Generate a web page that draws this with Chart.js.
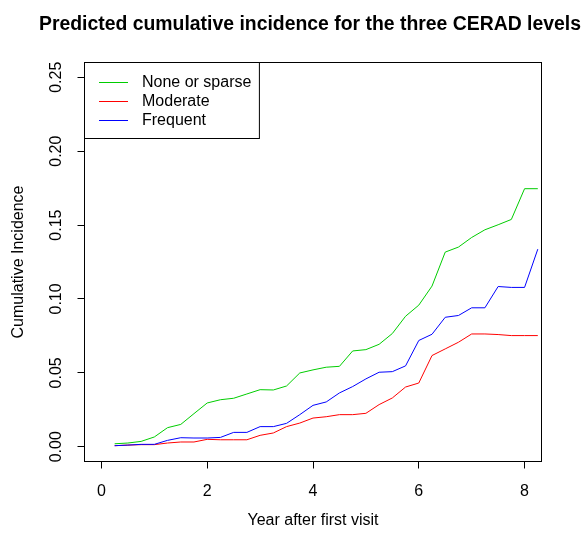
<!DOCTYPE html>
<html>
<head>
<meta charset="utf-8">
<script src="https://cdn.jsdelivr.net/npm/chart.js@4.4.1/dist/chart.umd.min.js"></script>
<style>
  html, body { margin: 0; padding: 0; background: #fff; }
</style>
</head>
<body>
<canvas id="incidence" width="584" height="536"></canvas>
<script>
// years after first visit, quarterly steps
const years = [0.25, 0.5, 0.75, 1, 1.25, 1.5, 1.75, 2, 2.25, 2.5, 2.75, 3, 3.25, 3.5, 3.75, 4,
               4.25, 4.5, 4.75, 5, 5.25, 5.5, 5.75, 6, 6.25, 6.5, 6.75, 7, 7.25, 7.5, 7.75, 8, 8.25];

// predicted cumulative incidence per CERAD level
const noneOrSparse = [0.0020, 0.0025, 0.0036, 0.0066, 0.0129, 0.0151, 0.0224, 0.0296, 0.0318, 0.0328, 0.0357,
                      0.0386, 0.0384, 0.0411, 0.0499, 0.0520, 0.0538, 0.0544, 0.0648, 0.0657, 0.0693, 0.0766,
                      0.0883, 0.0958, 0.1087, 0.1317, 0.1351, 0.1416, 0.1468, 0.1502, 0.1538, 0.1746, 0.1746];
const moderate = [0.0007, 0.0011, 0.0014, 0.0014, 0.0025, 0.0032, 0.0032, 0.0050, 0.0047, 0.0047, 0.0047,
                  0.0077, 0.0093, 0.0136, 0.0160, 0.0194, 0.0203, 0.0217, 0.0217, 0.0226, 0.0285, 0.0330,
                  0.0404, 0.0431, 0.0617, 0.0662, 0.0707, 0.0763, 0.0763, 0.0759, 0.0752, 0.0752, 0.0752];
const frequent = [0.0007, 0.0011, 0.0016, 0.0016, 0.0043, 0.0061, 0.0059, 0.0059, 0.0063, 0.0097, 0.0097,
                  0.0136, 0.0136, 0.0158, 0.0217, 0.0280, 0.0303, 0.0364, 0.0407, 0.0459, 0.0504, 0.0508,
                  0.0547, 0.0719, 0.0761, 0.0876, 0.0888, 0.0940, 0.0940, 0.1084, 0.1078, 0.1078, 0.1337];

const xTicks = [0, 2, 4, 6, 8];
const yTicks = [0, 0.05, 0.10, 0.15, 0.20, 0.25];

const FONT = '"Liberation Sans", Arial, Helvetica, sans-serif';
Chart.defaults.font.family = FONT;
Chart.defaults.font.size = 16;
Chart.defaults.color = '#000';

function series(label, ys, color, order) {
  return {
    label: label,
    data: years.map((x, i) => ({ x: x, y: ys[i] })),
    borderColor: color,
    backgroundColor: color,
    borderWidth: 1,
    pointRadius: 0,
    tension: 0,
    fill: false,
    order: order
  };
}

// frame around the plotting region
const plotBox = {
  id: 'plotBox',
  afterDraw(chart) {
    const { ctx, chartArea: a } = chart;
    ctx.save();
    ctx.strokeStyle = '#000';
    ctx.lineWidth = 1;
    ctx.strokeRect(a.left, a.top, a.right - a.left, a.bottom - a.top);
    ctx.restore();
  }
};

// boxed legend in the top-left corner of the plot
const cornerLegend = {
  id: 'cornerLegend',
  afterDraw(chart) {
    const { ctx, chartArea: a } = chart;
    const sets = chart.data.datasets;
    ctx.save();
    ctx.font = '16px ' + FONT;
    const textX = a.left + 57.5;
    const widest = Math.max(...sets.map(ds => ctx.measureText(ds.label).width));
    const w = textX - a.left + widest + 8;
    const h = 76;
    ctx.fillStyle = '#fff';
    ctx.fillRect(a.left, a.top, w, h);
    ctx.strokeStyle = '#000';
    ctx.lineWidth = 1;
    ctx.strokeRect(a.left, a.top, w, h);
    ctx.textBaseline = 'middle';
    sets.forEach((ds, i) => {
      const y = Math.round(a.top + 19 + i * 19) + 0.5;
      ctx.strokeStyle = ds.borderColor;
      ctx.beginPath();
      ctx.moveTo(a.left + 14.5, y);
      ctx.lineTo(a.left + 43.5, y);
      ctx.stroke();
      ctx.fillStyle = '#000';
      ctx.fillText(ds.label, textX, y);
    });
    ctx.restore();
  }
};

const tickMarks = { drawOnChartArea: false, drawTicks: true, tickLength: 7, color: '#000', lineWidth: 1 };

new Chart(document.getElementById('incidence'), {
  type: 'line',
  data: {
    datasets: [
      series('None or sparse', noneOrSparse, '#00CD00', 2),
      series('Moderate', moderate, '#FF0000', 1),
      series('Frequent', frequent, '#0000FF', 0)
    ]
  },
  options: {
    responsive: false,
    animation: false,
    layout: { padding: { left: 0, top: 0, bottom: 0, right: 3 } },
    scales: {
      x: {
        type: 'linear',
        position: 'bottom',
        min: -0.32,
        max: 8.32,
        grid: tickMarks,
        border: { display: false },
        afterBuildTicks: s => { s.ticks = xTicks.map(v => ({ value: v })); },
        afterFit: s => { s.height = 74.5; },
        ticks: { padding: 13, maxRotation: 0, autoSkip: false, callback: v => String(v) },
        title: { display: true, text: 'Year after first visit', padding: { top: 0, bottom: 5.5 } }
      },
      y: {
        type: 'linear',
        position: 'left',
        min: -0.01,
        max: 0.26,
        grid: tickMarks,
        border: { display: false },
        afterBuildTicks: s => { s.ticks = yTicks.map(v => ({ value: v })); },
        afterFit: s => { s.width = 84.5; },
        ticks: { padding: 5, minRotation: 90, maxRotation: 90, crossAlign: 'center', autoSkip: false,
                 callback: v => v.toFixed(2) },
        title: { display: true, text: 'Cumulative Incidence', padding: { top: 8.9, bottom: 0 } }
      },
      yRight: {
        type: 'linear',
        position: 'right',
        min: -0.01,
        max: 0.26,
        grid: { display: false },
        border: { display: false },
        ticks: { display: false },
        afterFit: s => { s.width = 39.5; }
      }
    },
    plugins: {
      legend: { display: false },
      tooltip: { enabled: false },
      title: {
        display: true,
        text: 'Predicted cumulative incidence for the three CERAD levels',
        align: 'end',
        font: { size: 19.4, weight: 'bold' },
        padding: { top: 13, bottom: 26.22 }
      }
    }
  },
  plugins: [plotBox, cornerLegend]
});
</script>
</body>
</html>
